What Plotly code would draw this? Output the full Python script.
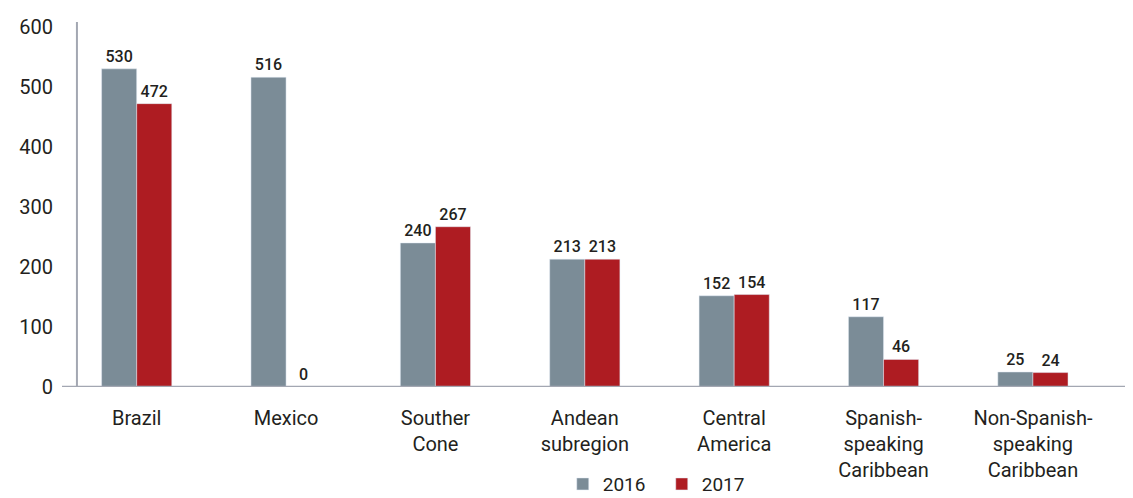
import plotly.graph_objects as go

# regions and values (thousands)
regions = ["Brazil", "Mexico", "Souther<br>Cone", "Andean<br>subregion", "Central<br>America",
           "Spanish-<br>speaking<br>Caribbean", "Non-Spanish-<br>speaking<br>Caribbean"]
vals_2016 = [530, 516, 240, 213, 152, 117, 25]
vals_2017 = [472, 0, 267, 213, 154, 46, 24]
y_ticks = [0, 100, 200, 300, 400, 500, 600]

GREY = "#7b8c97"
RED = "#ae1c22"
AXIS = "#a3a7b2"
TXT = "#231f20"
FONT = "Roboto, Liberation Sans, sans-serif"

xpos = list(range(len(regions)))

fig = go.Figure()
fig.add_trace(go.Bar(x=xpos, y=vals_2016, name="2016", marker_color=GREY,
                     text=vals_2016, textposition="outside", cliponaxis=False,
                     textfont=dict(size=16, color=TXT, family=FONT, weight=500)))
fig.add_trace(go.Bar(x=xpos, y=vals_2017, name="2017", marker_color=RED,
                     text=vals_2017, textposition="outside", cliponaxis=False,
                     textfont=dict(size=16, color=TXT, family=FONT, weight=500)))

# the page body has an 8px margin, so the figure is 8px smaller on each side
fig.update_layout(
    width=1125, height=490,
    margin=dict(l=54, r=0, t=14, b=111, autoexpand=False),
    plot_bgcolor="white", paper_bgcolor="white",
    barmode="group", bargap=0.53, bargroupgap=0,
    font=dict(family=FONT, size=20, color=TXT),
    showlegend=True,
    legend=dict(orientation="h", x=0.56, xanchor="center", y=-0.266, yanchor="middle",
                font=dict(size=19, family=FONT, color=TXT), itemwidth=30,
                entrywidth=54, traceorder="normal"),
)
fig.update_xaxes(tickmode="array", tickvals=xpos, ticktext=regions, automargin=False,
                 range=[-0.5, 6.67], showline=False, showgrid=False, zeroline=False,
                 ticks="", tickfont=dict(size=20, family=FONT, color=TXT),
                 ticklabelstandoff=17)
fig.update_yaxes(range=[0, 608], tickvals=y_ticks, showgrid=False, zeroline=False,
                 automargin=False,
                 showline=False, ticks="", tickfont=dict(size=20, family=FONT, color=TXT),
                 ticklabelstandoff=8)

# axis lines
fig.add_shape(type="line", xref="x", yref="y", x0=-0.4, x1=-0.4, y0=0, y1=608,
              line=dict(color=AXIS, width=2))
fig.add_shape(type="line", xref="paper", yref="y", x0=0, x1=1, y0=0, y1=0,
              line=dict(color=AXIS, width=2.5))

fig.write_html("out.html")
